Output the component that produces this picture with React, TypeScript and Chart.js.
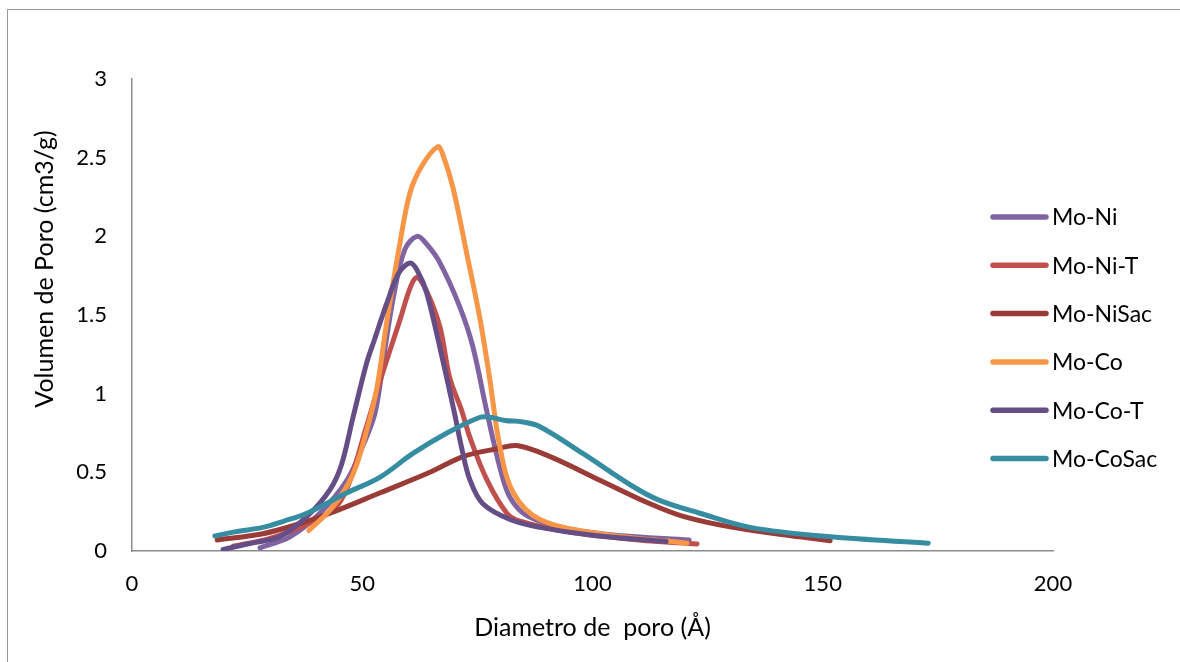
import React, { useEffect, useRef } from "react";
import { Chart, registerables } from "chart.js";

Chart.register(...registerables);

const seriesNames = ["Mo-Ni", "Mo-Ni-T", "Mo-NiSac", "Mo-Co", "Mo-Co-T", "Mo-CoSac"];
const seriesColors = ["#8064A2", "#C0504D", "#9A3B38", "#F79646", "#644E85", "#368DA2"];

const moNiX = [27.8, 34.3, 40.8, 46.7, 50, 52.8, 55, 57, 59.3, 61.9, 64, 66.9, 71.2, 74, 77.1, 79.9, 82.1, 86, 95, 105, 121];
const moNiY = [0.02, 0.09, 0.24, 0.45, 0.66, 0.88, 1.3, 1.65, 1.92, 2.0, 1.95, 1.83, 1.55, 1.3, 0.88, 0.53, 0.34, 0.22, 0.14, 0.1, 0.07];

const moNiTX = [22, 30, 38, 44, 47, 50.6, 54.3, 58.2, 60.5, 61.9, 64, 66.9, 69, 71.5, 73.4, 77.1, 81.4, 84.3, 95, 110, 122.7];
const moNiTY = [0.03, 0.08, 0.17, 0.27, 0.42, 0.76, 1.12, 1.47, 1.68, 1.74, 1.65, 1.42, 1.1, 0.9, 0.72, 0.45, 0.24, 0.19, 0.12, 0.07, 0.045];

const moNiSacX = [18.5, 28.4, 36, 43, 53.9, 64.7, 71.9, 79.3, 83.6, 90.8, 101.6, 112.5, 119.7, 130.5, 145, 151.6];
const moNiSacY = [0.07, 0.11, 0.17, 0.24, 0.37, 0.5, 0.6, 0.65, 0.67, 0.6, 0.45, 0.3, 0.22, 0.15, 0.09, 0.065];

const moCoX = [38.4, 43.6, 48, 51, 53.2, 55.4, 58.2, 60.4, 63, 66.4, 67.5, 69.7, 72.7, 75.6, 77.7, 79.9, 82.8, 88.6, 101.6, 120.5];
const moCoY = [0.13, 0.28, 0.49, 0.77, 1.04, 1.47, 1.96, 2.28, 2.45, 2.57, 2.52, 2.31, 1.89, 1.47, 1.09, 0.66, 0.37, 0.2, 0.11, 0.05];

const moCoTX = [19.8, 26, 32, 38, 43, 45.5, 48, 51, 52.5, 55.4, 58, 60.4, 62, 64, 67.5, 70, 71.7, 73.4, 76.2, 82.1, 88.6, 100, 116];
const moCoTY = [0.01, 0.05, 0.09, 0.22, 0.39, 0.55, 0.85, 1.2, 1.33, 1.58, 1.77, 1.83, 1.78, 1.64, 1.21, 0.88, 0.64, 0.45, 0.3, 0.2, 0.15, 0.1, 0.06];

const moCoSacX = [18, 22, 28.4, 33, 38, 46.7, 53.9, 61, 68.4, 75.6, 77.7, 81, 84.9, 88.6, 97.9, 108.8, 114.7, 123.3, 134.2, 151.6, 172.9];
const moCoSacY = [0.095, 0.12, 0.15, 0.19, 0.24, 0.37, 0.47, 0.62, 0.75, 0.85, 0.85, 0.83, 0.82, 0.79, 0.62, 0.41, 0.32, 0.24, 0.15, 0.09, 0.05];

const seriesX = [moNiX, moNiTX, moNiSacX, moCoX, moCoTX, moCoSacX];
const seriesY = [moNiY, moNiTY, moNiSacY, moCoY, moCoTY, moCoSacY];

const xTitle = "Diametro de  poro (Å)";
const yTitle = "Volumen de Poro (cm3/g)";
const FONT = "Lato, 'Open Sans', sans-serif";

const overlayPlugin = {
  id: "overlay",
  afterDraw(chart: any) {
    const ctx = chart.ctx;
    const area = chart.chartArea;
    ctx.save();
    ctx.fillStyle = "#000";
    // x title
    ctx.font = `25px ${FONT}`;
    ctx.textAlign = "center";
    ctx.textBaseline = "middle";
    ctx.fillText(xTitle, (area.left + area.right) / 2, 628);
    // y title
    ctx.save();
    ctx.font = `25px ${FONT}`;
    ctx.translate(45, 269);
    ctx.rotate(-Math.PI / 2);
    ctx.fillText(yTitle, 0, 0);
    ctx.restore();
    // legend
    ctx.font = `23px ${FONT}`;
    ctx.textAlign = "left";
    seriesNames.forEach((name, i) => {
      const y = 217 + i * 48.3;
      ctx.strokeStyle = seriesColors[i];
      ctx.lineWidth = 5.5;
      ctx.lineCap = "round";
      ctx.beginPath();
      ctx.moveTo(993, y);
      ctx.lineTo(1046, y);
      ctx.stroke();
      ctx.fillStyle = "#000";
      ctx.fillText(name, 1052, y + 1);
    });
    ctx.restore();
  },
};

export default function App() {
  const canvasRef = useRef<HTMLCanvasElement>(null);

  useEffect(() => {
    if (!canvasRef.current) return;
    const datasets = seriesNames.map((name, i) => ({
      label: name,
      data: seriesX[i].map((x, j) => ({ x, y: seriesY[i][j] })),
      borderColor: seriesColors[i],
      backgroundColor: seriesColors[i],
      borderWidth: 5,
      borderCapStyle: "round" as const,
      borderJoinStyle: "round" as const,
      showLine: true,
      pointRadius: 0,
      pointHoverRadius: 0,
      tension: 0.35,
      order: 5 - i,
    }));
    const chart = new Chart(canvasRef.current, {
      type: "scatter",
      data: { datasets },
      options: {
        animation: false,
        responsive: false,
        maintainAspectRatio: false,
        layout: { padding: { top: 79, right: 127, left: 0, bottom: 0 } },
        plugins: { legend: { display: false }, tooltip: { enabled: false } },
        scales: {
          x: {
            type: "linear",
            min: 0,
            max: 200,
            afterFit: (s: any) => {
              s.height = 111;
            },
            ticks: { stepSize: 50, color: "#000", font: { family: FONT, size: 22 }, padding: 20, maxRotation: 0 },
            grid: { display: false, drawTicks: false },
            border: { display: true, color: "#8c8c8c", width: 1.5 },
          },
          y: {
            type: "linear",
            min: 0,
            max: 3,
            afterFit: (s: any) => {
              s.width = 132;
            },
            ticks: {
              stepSize: 0.5,
              color: "#000",
              font: { family: FONT, size: 22 },
              padding: 25,
              callback: (v: any) => String(Number(v)),
            },
            grid: { display: false, drawTicks: false },
            border: { display: true, color: "#8c8c8c", width: 1.5 },
          },
        },
      },
      plugins: [overlayPlugin],
    });
    return () => chart.destroy();
  }, []);

  return (
    <div style={{ position: "fixed", left: 0, top: 0, width: 1180, height: 662, background: "#fff", overflow: "hidden" }}>
      <div
        style={{
          position: "absolute",
          left: 7,
          top: 9,
          width: 1200,
          height: 700,
          border: "1.5px solid #9a9a9a",
          boxSizing: "border-box",
        }}
      />
      <canvas ref={canvasRef} width={1180} height={662} style={{ position: "absolute", left: 0, top: 0 }} />
    </div>
  );
}
